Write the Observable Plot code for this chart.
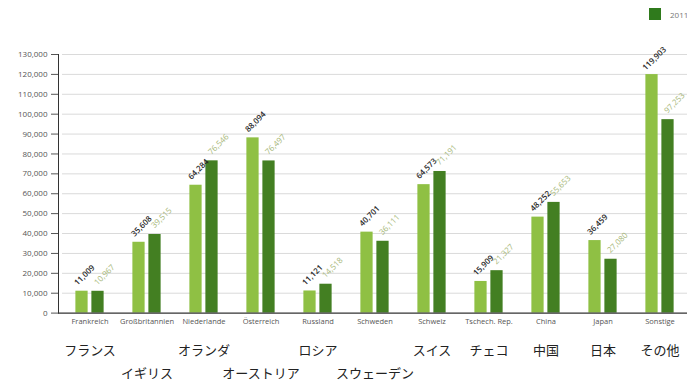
<!DOCTYPE html>
<html>
<head>
<meta charset="utf-8">
<script src="https://cdn.jsdelivr.net/npm/d3@7"></script>
<script src="https://cdn.jsdelivr.net/npm/@observablehq/plot@0.6"></script>
<style>
  body { margin: 0; background: #fff; }
  #wrap { position: relative; width: 687px; height: 385px; overflow: hidden; background: #fff; }
  #legend { position: absolute; left: 649px; top: 8px; display: flex; align-items: center; font: 8px "Open Sans", sans-serif; color: #777; white-space: nowrap; }
  #legend .sw { width: 12px; height: 12px; background: #2f7a1c; margin-right: 9px; }
</style>
</head>
<body>
<div id="wrap"><div id="legend"><span class="sw"></span><span>2011</span></div></div>
<script>
const categories = ["Frankreich", "Großbritannien", "Niederlande", "Österreich", "Russland", "Schweden", "Schweiz", "Tschech. Rep.", "China", "Japan", "Sonstige"];
const japaneseLabels = ["フランス", "イギリス", "オランダ", "オーストリア", "ロシア", "スウェーデン", "スイス", "チェコ", "中国", "日本", "その他"];
const values2010 = [11009, 35608, 64284, 88094, 11121, 40701, 64573, 15909, 48252, 36459, 119903];
const values2011 = [10967, 39515, 76546, 76497, 14518, 36111, 71191, 21327, 55653, 27080, 97253];
const yTicks = [0, 10000, 20000, 30000, 40000, 50000, 60000, 70000, 80000, 90000, 100000, 110000, 120000, 130000];
const secondRowLabels = ["Großbritannien", "Österreich", "Schweden"];

const W = 687, H = 385, ML = 58, MR = -3, MT = 54, MB = 72.4;
const step = (W - ML - MR) / categories.length;
const half = step / 2, barW = 12.7, gap = 3.3;
const fmt = d3.format(",");

const rows2010 = categories.map((c, i) => ({category: c, value: values2010[i]}));
const rows2011 = categories.map((c, i) => ({category: c, value: values2011[i]}));
const jp = categories.map((c, i) => ({category: c, label: japaneseLabels[i], row: secondRowLabels.includes(c) ? 2 : 1}));

const light = "#8fc044", dark = "#437f22";

const chart = Plot.plot({
  width: W, height: H,
  marginLeft: ML, marginRight: MR, marginTop: MT, marginBottom: MB,
  style: {fontFamily: "'Open Sans', sans-serif", background: "transparent", overflow: "visible"},
  x: {domain: categories, padding: 0, axis: null},
  y: {domain: [0, 130000], axis: null},
  marks: [
    Plot.gridY(yTicks.filter(d => d > 0), {stroke: "#dadada", strokeOpacity: 1, insetLeft: 4}),
    Plot.barY(rows2010, {x: "category", y: "value", fill: light, insetLeft: half - gap / 2 - barW, insetRight: half + gap / 2}),
    Plot.barY(rows2011, {x: "category", y: "value", fill: dark, insetLeft: half + gap / 2, insetRight: half - gap / 2 - barW}),
    Plot.text(rows2010, {x: "category", y: "value", text: d => fmt(d.value), rotate: -45, textAnchor: "middle", dx: -(gap / 2 + barW / 2) + 2.5, dy: -16, fontSize: 8, fill: "#2a2a2a", fontWeight: 600}),
    Plot.text(rows2011, {x: "category", y: "value", text: d => fmt(d.value), rotate: -45, textAnchor: "middle", dx: (gap / 2 + barW / 2) + 6.5, dy: -16.5, fontSize: 8, fill: "#a8b87a"}),
    Plot.axisY({ticks: yTicks, tickFormat: fmt, tickSize: 7, tickPadding: 4, fontSize: 8, color: "#555", anchor: "left", label: null}),
    Plot.frame({anchor: "left", stroke: "#333"}),
    Plot.ruleY([0], {stroke: "#333", strokeWidth: 1.2}),
    Plot.axisX({tickSize: 0, tickPadding: 6, fontSize: 7.5, color: "#555", anchor: "bottom", label: null}),
    Plot.text(jp.filter(d => d.row === 1), {x: "category", text: "label", frameAnchor: "bottom", dy: 42, fontSize: 13, fill: "#222", fontFamily: "'Noto Sans CJK JP', sans-serif"}),
    Plot.text(jp.filter(d => d.row === 2), {x: "category", text: "label", frameAnchor: "bottom", dy: 65, fontSize: 13, fill: "#222", fontFamily: "'Noto Sans CJK JP', sans-serif"})
  ]
});
document.getElementById("wrap").prepend(chart);
</script>
</body>
</html>
